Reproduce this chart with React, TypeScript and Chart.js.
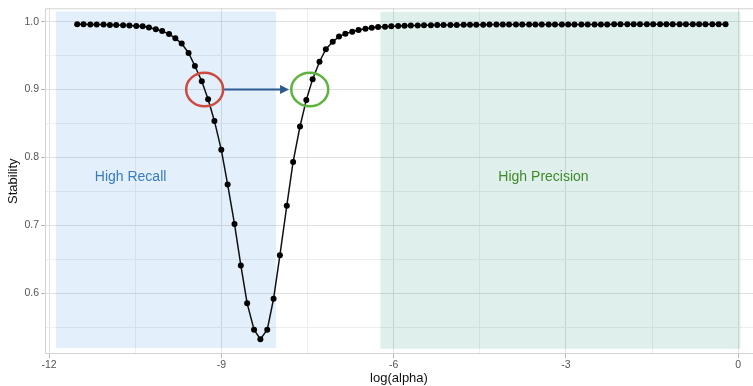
import React, { useEffect, useRef } from "react";
import { Chart, registerables } from "chart.js";

Chart.register(...registerables);

// log(alpha) grid of the regularisation path
const logAlpha = [
  -11.51, -11.4, -11.28, -11.17, -11.05, -10.94, -10.83, -10.71, -10.6, -10.48,
  -10.37, -10.26, -10.14, -10.03, -9.91, -9.8, -9.69, -9.57, -9.46, -9.34,
  -9.23, -9.12, -9.0, -8.89, -8.77, -8.66, -8.55, -8.43, -8.32, -8.2,
  -8.09, -7.98, -7.86, -7.75, -7.63, -7.52, -7.41, -7.29, -7.18, -7.06,
  -6.95, -6.84, -6.72, -6.61, -6.49, -6.38, -6.27, -6.15, -6.04, -5.92,
  -5.81, -5.7, -5.58, -5.47, -5.35, -5.24, -5.13, -5.01, -4.9, -4.78,
  -4.67, -4.56, -4.44, -4.33, -4.21, -4.1, -3.99, -3.87, -3.76, -3.64,
  -3.53, -3.42, -3.3, -3.19, -3.07, -2.96, -2.85, -2.73, -2.62, -2.5,
  -2.39, -2.28, -2.16, -2.05, -1.93, -1.82, -1.71, -1.59, -1.48, -1.36,
  -1.25, -1.14, -1.02, -0.91, -0.79, -0.68, -0.57, -0.45, -0.34, -0.22,
];

// selection stability at each alpha
const stability = [
  0.996, 0.996, 0.9958, 0.9957, 0.9956, 0.9952, 0.995, 0.9946, 0.9941, 0.9935,
  0.9931, 0.9912, 0.9887, 0.986, 0.9818, 0.9754, 0.9676, 0.9538, 0.9347, 0.9122,
  0.8857, 0.8538, 0.8112, 0.7603, 0.702, 0.641, 0.5853, 0.5465, 0.5324, 0.5465,
  0.592, 0.656, 0.7288, 0.7935, 0.8456, 0.8847, 0.9153, 0.941, 0.9595, 0.9703,
  0.978, 0.9823, 0.9852, 0.9877, 0.9894, 0.9909, 0.9921, 0.9926, 0.9931, 0.9935,
  0.9939, 0.9942, 0.9944, 0.9946, 0.9948, 0.9949, 0.995, 0.9951, 0.9952, 0.9953,
  0.9954, 0.9955, 0.9955, 0.9956, 0.9956, 0.9957, 0.9957, 0.9957, 0.9957, 0.9958,
  0.9958, 0.9958, 0.9958, 0.9958, 0.9958, 0.9959, 0.9959, 0.9959, 0.9959, 0.9959,
  0.9959, 0.9959, 0.996, 0.996, 0.996, 0.996, 0.996, 0.996, 0.996, 0.996,
  0.996, 0.996, 0.996, 0.996, 0.996, 0.996, 0.996, 0.996, 0.996, 0.996,
];

const xMajorTicks = [-12, -9, -6, -3, 0];
const xMinorTicks = [-10.5, -7.5, -4.5, -1.5];
const yMajorTicks = [0.6, 0.7, 0.8, 0.9, 1.0];
const yMinorTicks = [0.55, 0.65, 0.75, 0.85, 0.95];

// shaded regimes
const regionLabels = ["High Recall", "High Precision"];
const regionXMin = [-11.88, -6.23];
const regionXMax = [-8.05, 0.04];
const regionYMin = [0.5196, 0.5185];
const regionYMax = [1.015, 1.0145];
const regionLabelX = [-10.58, -3.39];
const regionLabelY = [0.771, 0.771];

// the 0.9 crossing on each side of the dip
const crossingX = [-9.29, -7.46];
const crossingY = 0.9;
const arrowStartX = -8.95;
const arrowEndX = -7.82;

const FONT = "'Liberation Sans', Arial, Helvetica, sans-serif";

const near = (list: number[], v: number) => list.some((t) => Math.abs(t - v) < 1e-6);

const panelPlugin = {
  id: "panelDecor",
  beforeDatasetsDraw(chart: any) {
    const { ctx, chartArea: a, scales } = chart;
    const x = scales.x;
    const y = scales.y;
    ctx.save();

    // panel frame: left, top and bottom edges
    ctx.strokeStyle = "#d3d3d3";
    ctx.lineWidth = 1;
    ctx.beginPath();
    ctx.moveTo(a.right, a.top + 0.5);
    ctx.lineTo(a.left + 0.5, a.top + 0.5);
    ctx.lineTo(a.left + 0.5, a.bottom - 0.5);
    ctx.lineTo(a.right, a.bottom - 0.5);
    ctx.stroke();

    const fills = ["rgba(66,150,230,0.15)", "rgba(30,140,110,0.14)"];
    const textColors = ["#3a7cc0", "#3f8a2a"];
    for (let i = 0; i < regionLabels.length; i++) {
      const x0 = x.getPixelForValue(regionXMin[i]);
      const x1 = x.getPixelForValue(regionXMax[i]);
      const y0 = y.getPixelForValue(regionYMax[i]);
      const y1 = y.getPixelForValue(regionYMin[i]);
      ctx.fillStyle = fills[i];
      ctx.fillRect(x0, y0, x1 - x0, y1 - y0);

      ctx.fillStyle = textColors[i];
      ctx.font = `14px ${FONT}`;
      ctx.textAlign = "center";
      ctx.textBaseline = "middle";
      ctx.fillText(
        regionLabels[i],
        x.getPixelForValue(regionLabelX[i]),
        y.getPixelForValue(regionLabelY[i])
      );
    }
    ctx.restore();
  },
  afterDatasetsDraw(chart: any) {
    const { ctx, scales } = chart;
    const x = scales.x;
    const y = scales.y;
    ctx.save();

    const cy = y.getPixelForValue(crossingY);
    const ringColors = ["#cc4a3e", "#5db33e"];
    ctx.lineWidth = 2.5;
    for (let i = 0; i < crossingX.length; i++) {
      ctx.strokeStyle = ringColors[i];
      ctx.beginPath();
      ctx.ellipse(x.getPixelForValue(crossingX[i]), cy, 18.5, 16.8, 0, 0, Math.PI * 2);
      ctx.stroke();
    }

    // arrow between the two rings
    const ax0 = x.getPixelForValue(arrowStartX);
    const ax1 = x.getPixelForValue(arrowEndX);
    const head = 9;
    ctx.strokeStyle = "#2b5b90";
    ctx.fillStyle = "#2b5b90";
    ctx.lineWidth = 2;
    ctx.beginPath();
    ctx.moveTo(ax0, cy);
    ctx.lineTo(ax1 - head + 1, cy);
    ctx.stroke();
    ctx.beginPath();
    ctx.moveTo(ax1, cy);
    ctx.lineTo(ax1 - head, cy - 4.5);
    ctx.lineTo(ax1 - head, cy + 4.5);
    ctx.closePath();
    ctx.fill();

    ctx.restore();
  },
};

export default function App() {
  const canvasRef = useRef<HTMLCanvasElement | null>(null);

  useEffect(() => {
    const canvas = canvasRef.current;
    if (!canvas) return;

    const tickFont = { family: FONT, size: 10.5 };
    const titleFont = { family: FONT, size: 13 };

    const chart = new Chart(canvas, {
      type: "line",
      data: {
        datasets: [
          {
            data: logAlpha.map((v, i) => ({ x: v, y: stability[i] })),
            borderColor: "#111111",
            borderWidth: 1.5,
            pointRadius: 3,
            pointBackgroundColor: "#000000",
            pointBorderColor: "#000000",
            pointBorderWidth: 0,
            tension: 0,
          },
        ],
      },
      options: {
        responsive: false,
        animation: false,
        events: [],
        layout: { autoPadding: false, padding: { top: 8, left: 0, right: 0, bottom: 0 } },
        plugins: {
          legend: { display: false },
          tooltip: { enabled: false },
        },
        scales: {
          x: {
            type: "linear",
            min: -12.07,
            max: 0.258,
            afterFit(scale: any) {
              scale.height = 32;
            },
            afterBuildTicks(scale: any) {
              scale.ticks = [...xMajorTicks, ...xMinorTicks]
                .sort((a, b) => a - b)
                .map((value) => ({ value }));
            },
            ticks: {
              autoSkip: false,
              maxRotation: 0,
              padding: 1,
              color: "#555555",
              font: tickFont,
              callback: (v: any) => (near(xMajorTicks, Number(v)) ? String(Number(v)) : ""),
            },
            grid: {
              color: (c: any) => (near(xMajorTicks, c.tick?.value) ? "#e0e0e0" : "#eeeeee"),
              tickColor: (c: any) =>
                near(xMajorTicks, c.tick?.value) ? "#b5b5b5" : "rgba(0,0,0,0)",
              tickLength: 4,
              lineWidth: 1,
            },
            border: { display: false },
            title: {
              display: true,
              text: "log(alpha)",
              color: "#111111",
              font: titleFont,
              padding: { top: 0, bottom: 0 },
            },
          },
          y: {
            type: "linear",
            min: 0.5107,
            max: 1.0196,
            afterFit(scale: any) {
              scale.width = 45;
            },
            afterBuildTicks(scale: any) {
              scale.ticks = [...yMajorTicks, ...yMinorTicks]
                .sort((a, b) => a - b)
                .map((value) => ({ value }));
            },
            ticks: {
              autoSkip: false,
              padding: 2,
              color: "#555555",
              font: tickFont,
              callback: (v: any) => (near(yMajorTicks, Number(v)) ? Number(v).toFixed(1) : ""),
            },
            grid: {
              color: (c: any) => (near(yMajorTicks, c.tick?.value) ? "#e0e0e0" : "#eeeeee"),
              tickColor: (c: any) =>
                near(yMajorTicks, c.tick?.value) ? "#b5b5b5" : "rgba(0,0,0,0)",
              tickLength: 4,
              lineWidth: 1,
            },
            border: { display: false },
            title: {
              display: true,
              text: "Stability",
              color: "#111111",
              font: titleFont,
              padding: { top: 6, bottom: 0 },
            },
          },
        },
      },
      plugins: [panelPlugin],
    } as any);

    return () => chart.destroy();
  }, []);

  return (
    <div style={{ position: "absolute", left: 0, top: 0, width: 753, height: 386, background: "#ffffff" }}>
      <canvas ref={canvasRef} width={753} height={386} style={{ display: "block" }} />
    </div>
  );
}
